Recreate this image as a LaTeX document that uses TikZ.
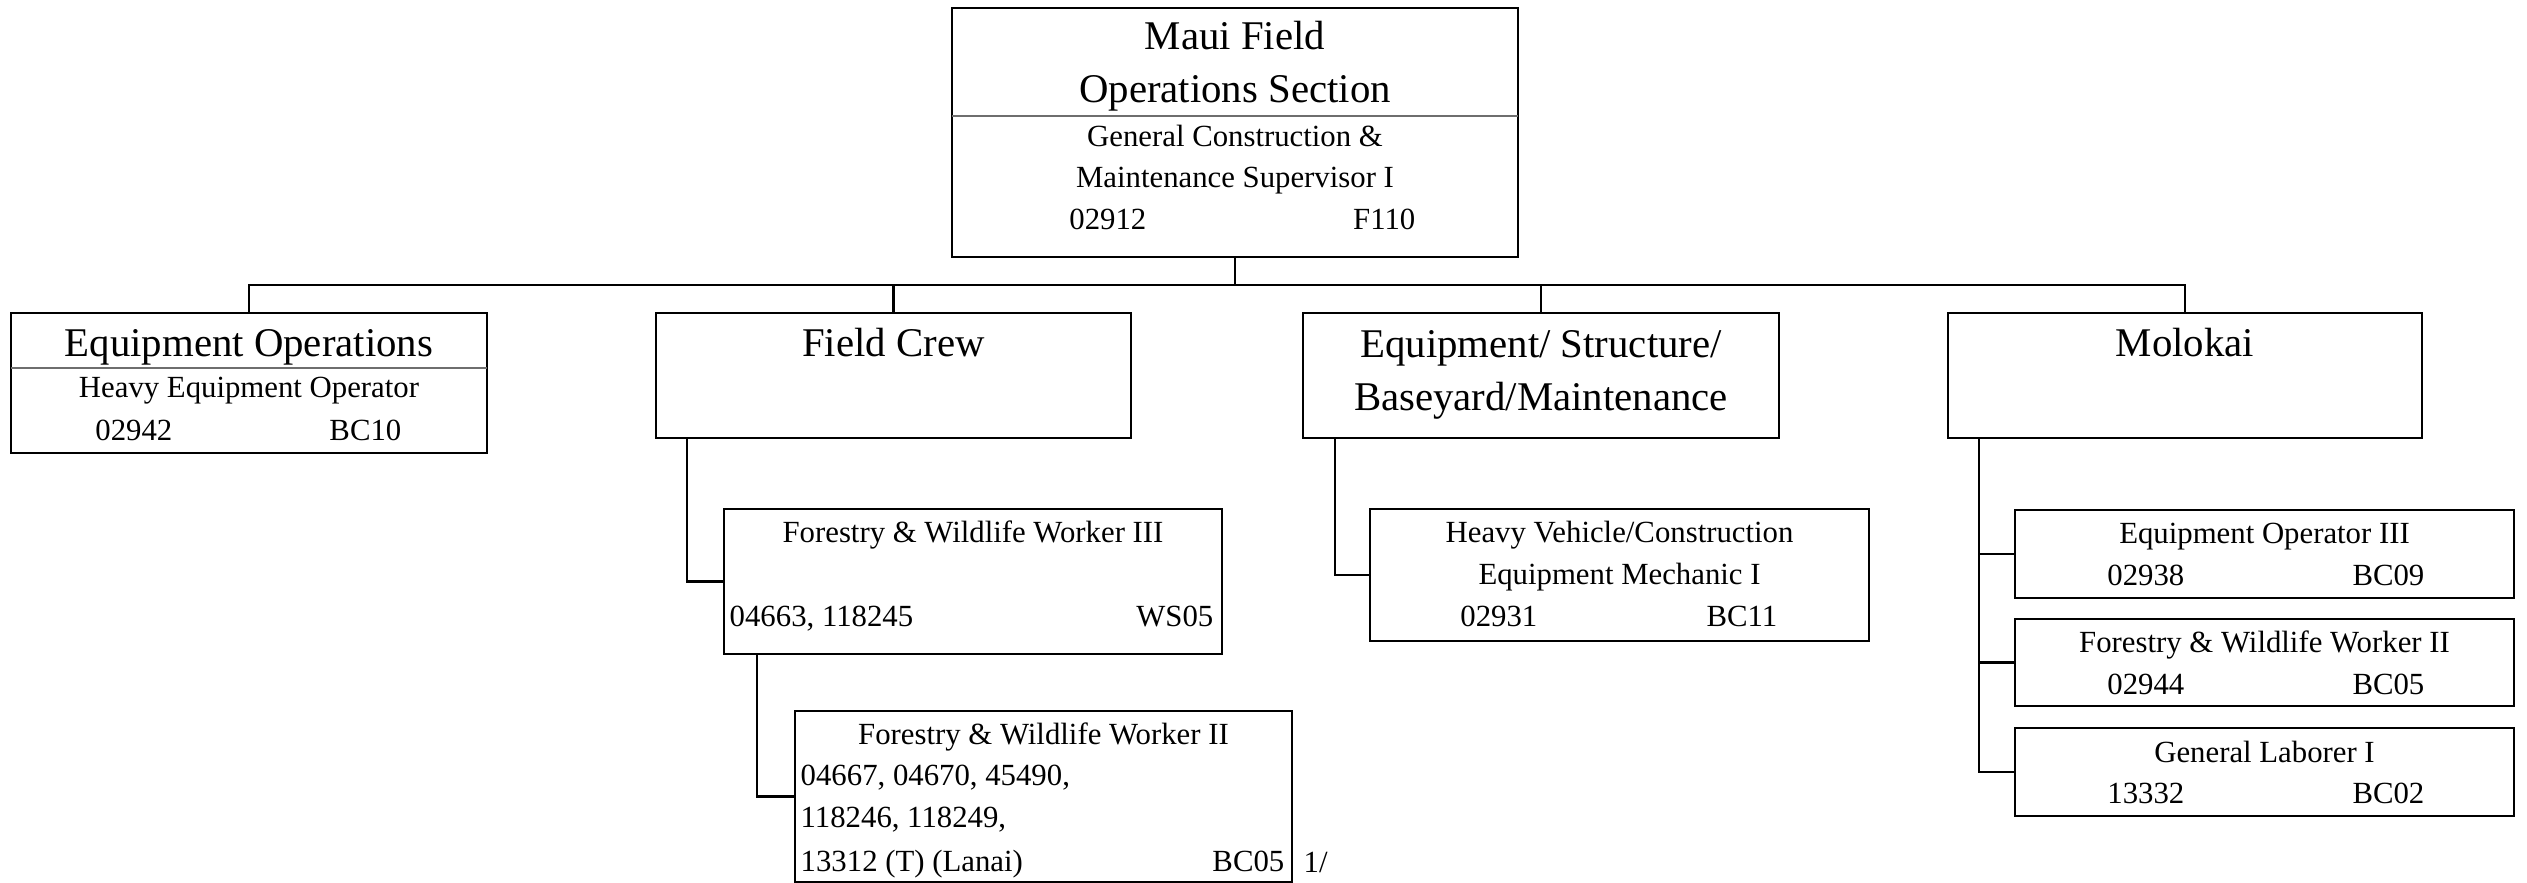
\documentclass[tikz,border=0pt]{standalone}
\usepackage{fontspec}
\setmainfont{Liberation Serif}
\usepackage{tikz}
\usetikzlibrary{positioning}
\tikzstyle{chart} = [x = 0.01cm, y = -0.01cm]
\definecolor{dividerColor}{RGB}{110,110,110}
\tikzstyle{unitBox} = [draw, anchor=north west, line width=.8pt, inner sep=0, outer sep=0]
\tikzstyle{orgLine} = [line width=.8pt]
\tikzstyle{dividerLine} = [color=dividerColor, line width=.4pt]
\tikzstyle{bigText} = [font=\fontsize{11.6}{15}\selectfont, inner sep=0, anchor=base]
\tikzstyle{smallText} = [font=\fontsize{8.75}{11.5}\selectfont, inner sep=0, anchor=base]
\newcommand{\orgBox}[5]{\node [unitBox, minimum width={(#4-#2)*0.01cm}, minimum height={(#5-#3)*0.01cm}] (#1) at (#2,#3) {};}
\newcommand{\bigLine}[4]{\node [bigText] (#1) at (#2,#3) {#4};}
\newcommand{\smallLine}[4]{\node [smallText] (#1) at (#2,#3) {#4};}
\newcommand{\leftNum}[4]{\node [smallText, anchor=base west] (#1) at (#2,#3) {#4};}
\newcommand{\rightNum}[4]{\node [smallText, anchor=base east] (#1) at (#2,#3) {#4};}

\begin{document}
\begin{tikzpicture}[chart]
\useasboundingbox (0,0) rectangle (2527,883);
% section head
\orgBox{mauiTop}{952}{8}{1518}{257}
\draw [dividerLine] ([yshift=-1.08cm]mauiTop.north west) -- ([yshift=-1.08cm]mauiTop.north east);
\bigLine{mauiName}{1235}{50}{Maui Field}\bigLine{mauiSection}{1235}{103}{Operations Section}
\smallLine{mauiTitle}{1235}{147}{General Construction \&}\smallLine{mauiTitleB}{1235}{188}{Maintenance Supervisor I}
\rightNum{mauiNum}{1147}{230}{02912}\rightNum{mauiCode}{1416}{230}{F110}
% units
\orgBox{eqOps}{11}{313}{487}{453}
\draw [dividerLine] ([yshift=-.55cm]eqOps.north west) -- ([yshift=-.55cm]eqOps.north east);
\bigLine{eqOpsName}{249}{357}{Equipment Operations}\smallLine{eqOpsTitle}{249}{398}{Heavy Equipment Operator}
\rightNum{eqOpsNum}{173}{441}{02942}\rightNum{eqOpsCode}{402}{441}{BC10}
\orgBox{fieldCrew}{656}{313}{1131}{438}
\bigLine{fieldCrewName}{893.5}{357}{Field Crew}
\orgBox{eqStruct}{1303}{313}{1779}{438}
\bigLine{eqStructName}{1541}{358}{Equipment/ Structure/}\bigLine{eqStructNameB}{1541}{411}{Baseyard/Maintenance}
\orgBox{molokai}{1948}{313}{2422}{438}
\bigLine{molokaiName}{2185}{357}{Molokai}
% field crew positions
\orgBox{fwwThree}{724}{509}{1222}{654}
\smallLine{fwwThreeTitle}{973}{543}{Forestry \& Wildlife Worker III}
\leftNum{fwwThreeNum}{729}{627}{04663, 118245}\rightNum{fwwThreeCode}{1214}{627}{WS05}
\orgBox{fwwTwo}{795}{711}{1292}{882}
\smallLine{fwwTwoTitle}{1043.5}{745}{Forestry \& Wildlife Worker II}
\leftNum{fwwTwoNum}{800}{786}{04667, 04670, 45490,}\leftNum{fwwTwoNumB}{800}{828}{118246, 118249,}
\leftNum{fwwTwoNumC}{800}{872}{13312 (T) (Lanai)}\rightNum{fwwTwoCode}{1285}{872}{BC05}
\leftNum{fwwTwoNote}{1303}{873}{1/}
% baseyard position
\orgBox{hvcem}{1370}{509}{1869}{641}
\smallLine{hvcemTitle}{1619.5}{543}{Heavy Vehicle/Construction}\smallLine{hvcemTitleB}{1619.5}{585}{Equipment Mechanic I}
\rightNum{hvcemNum}{1538}{627}{02931}\rightNum{hvcemCode}{1778}{627}{BC11}
% molokai positions
\orgBox{eqOpThree}{2015}{510}{2514}{598}
\smallLine{eqOpThreeTitle}{2264.5}{544}{Equipment Operator III}
\rightNum{eqOpThreeNum}{2185}{586}{02938}\rightNum{eqOpThreeCode}{2425}{586}{BC09}
\orgBox{fwwMolokai}{2015}{619}{2514}{706}
\smallLine{fwwMolokaiTitle}{2264.5}{653}{Forestry \& Wildlife Worker II}
\rightNum{fwwMolokaiNum}{2185}{695}{02944}\rightNum{fwwMolokaiCode}{2425}{695}{BC05}
\orgBox{genLaborer}{2015}{728}{2514}{816}
\smallLine{genLaborerTitle}{2264.5}{763}{General Laborer I}
\rightNum{genLaborerNum}{2185}{804}{13332}\rightNum{genLaborerCode}{2425}{804}{BC02}
% connectors
\draw [orgLine] (mauiTop.south) -- ++(0,28) coordinate (busJoin);
\draw [orgLine] (eqOps.north) |- (busJoin) -| (molokai.north);
\draw [orgLine] (fieldCrew.north) -- (fieldCrew.north |- busJoin);
\draw [orgLine] (eqStruct.north) -- (eqStruct.north |- busJoin);
\draw [orgLine] ([xshift=.31cm]fieldCrew.south west) |- (fwwThree.west);
\draw [orgLine] ([xshift=.33cm]fwwThree.south west) |- (fwwTwo.west);
\draw [orgLine] ([xshift=.32cm]eqStruct.south west) |- (hvcem.west);
\coordinate (molokaiRail) at ([xshift=.31cm]molokai.south west);
\draw [orgLine] (molokaiRail) |- (genLaborer.west);
\draw [orgLine] (molokaiRail |- eqOpThree.west) -- (eqOpThree.west);
\draw [orgLine] (molokaiRail |- fwwMolokai.west) -- (fwwMolokai.west);
\end{tikzpicture}
\end{document}
